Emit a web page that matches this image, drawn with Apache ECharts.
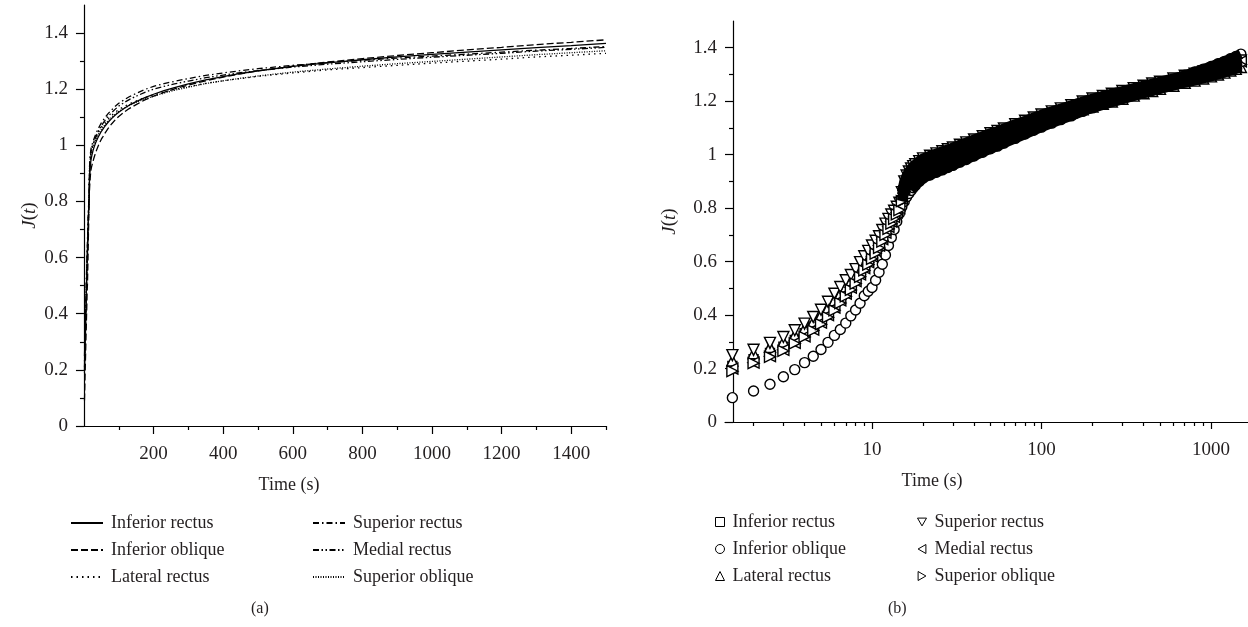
<!DOCTYPE html>
<html>
<head>
<meta charset="utf-8">
<script src="https://cdn.jsdelivr.net/npm/echarts@6/dist/echarts.min.js"></script>
<style>
  html, body { margin: 0; padding: 0; background: #fff; }
  #wrap { position: relative; width: 1248px; height: 627px; }
  .panel { position: absolute; top: 0; width: 624px; height: 627px; }
</style>
</head>
<body>
<div id="wrap">
  <div class="panel" id="chartA" style="left:0"></div>
  <div class="panel" id="chartB" style="left:624px"></div>
</div>
<script>
// sampling times (s), shared by both panels
var timeS = [1.5, 2, 2.5, 3, 3.5, 4, 4.5, 5, 5.5, 6, 6.5, 7, 7.5, 8, 8.5, 9, 9.5, 10,
  10.5, 11, 11.5, 12, 12.5, 13, 13.5, 14, 14.5, 15, 15.5, 16, 16.5, 17, 17.5, 18,
  19, 20, 22, 24, 26, 28, 30, 33, 36, 40, 45, 50, 55, 60, 70, 80, 90, 100,
  115, 130, 150, 175, 200, 230, 260, 300, 350, 400, 450, 500,
  600, 700, 800, 900, 1000, 1100, 1200, 1300, 1400, 1500];

// J(t) per muscle
var inferiorRectus = [0.21, 0.235, 0.258, 0.282, 0.307, 0.332, 0.357, 0.383, 0.41, 0.438, 0.464, 0.49, 0.513, 0.537, 0.562, 0.585, 0.607, 0.628,
  0.648, 0.668, 0.692, 0.716, 0.737, 0.756, 0.773, 0.789, 0.805, 0.83, 0.86, 0.88, 0.895, 0.906, 0.915, 0.922,
  0.935, 0.946, 0.96, 0.971, 0.981, 0.989, 0.997, 1.007, 1.016, 1.027, 1.039, 1.05, 1.059, 1.068, 1.083, 1.096, 1.108, 1.118,
  1.131, 1.143, 1.156, 1.17, 1.182, 1.195, 1.206, 1.219, 1.233, 1.245, 1.256, 1.265,
  1.281, 1.294, 1.305, 1.315, 1.324, 1.332, 1.34, 1.348, 1.355, 1.363];
var inferiorOblique = [0.091, 0.116, 0.141, 0.169, 0.196, 0.222, 0.246, 0.271, 0.298, 0.324, 0.346, 0.37, 0.397, 0.419, 0.444, 0.472, 0.489, 0.503,
  0.53, 0.56, 0.59, 0.625, 0.66, 0.69, 0.72, 0.75, 0.78, 0.805, 0.825, 0.842, 0.855, 0.866, 0.876, 0.885,
  0.9, 0.912, 0.924, 0.934, 0.943, 0.952, 0.96, 0.972, 0.982, 0.995, 1.009, 1.022, 1.032, 1.043, 1.061, 1.077, 1.091, 1.103,
  1.118, 1.131, 1.145, 1.162, 1.175, 1.189, 1.201, 1.215, 1.23, 1.243, 1.255, 1.265,
  1.282, 1.297, 1.309, 1.32, 1.33, 1.34, 1.349, 1.359, 1.367, 1.376];
var lateralRectus = [0.23, 0.257, 0.281, 0.3, 0.325, 0.35, 0.375, 0.4, 0.427, 0.455, 0.48, 0.505, 0.527, 0.55, 0.575, 0.598, 0.618, 0.638,
  0.657, 0.676, 0.7, 0.724, 0.744, 0.762, 0.778, 0.794, 0.81, 0.85, 0.89, 0.914, 0.93, 0.942, 0.951, 0.958,
  0.97, 0.981, 0.99, 0.998, 1.005, 1.011, 1.018, 1.027, 1.035, 1.044, 1.055, 1.065, 1.073, 1.081, 1.095, 1.107, 1.118, 1.128,
  1.138, 1.148, 1.158, 1.17, 1.18, 1.19, 1.199, 1.209, 1.221, 1.23, 1.238, 1.246,
  1.258, 1.269, 1.277, 1.285, 1.293, 1.3, 1.307, 1.315, 1.321, 1.328];
var superiorRectus = [0.25, 0.27, 0.296, 0.318, 0.343, 0.368, 0.393, 0.42, 0.45, 0.48, 0.505, 0.53, 0.55, 0.572, 0.598, 0.62, 0.64, 0.66,
  0.678, 0.695, 0.718, 0.742, 0.76, 0.776, 0.79, 0.805, 0.82, 0.86, 0.9, 0.922, 0.937, 0.948, 0.957, 0.964,
  0.976, 0.986, 0.996, 1.005, 1.013, 1.02, 1.027, 1.037, 1.046, 1.057, 1.069, 1.08, 1.089, 1.098, 1.114, 1.127, 1.139, 1.15,
  1.162, 1.173, 1.185, 1.199, 1.21, 1.22, 1.228, 1.238, 1.249, 1.258, 1.266, 1.273,
  1.285, 1.295, 1.303, 1.311, 1.318, 1.325, 1.332, 1.339, 1.345, 1.352];
var medialRectus = [0.2, 0.222, 0.246, 0.27, 0.296, 0.32, 0.346, 0.372, 0.4, 0.428, 0.455, 0.48, 0.503, 0.527, 0.552, 0.576, 0.598, 0.62,
  0.64, 0.66, 0.684, 0.708, 0.73, 0.75, 0.767, 0.784, 0.8, 0.835, 0.872, 0.898, 0.915, 0.928, 0.938, 0.946,
  0.962, 0.976, 0.986, 0.995, 1.003, 1.01, 1.017, 1.027, 1.036, 1.047, 1.059, 1.07, 1.079, 1.088, 1.104, 1.117, 1.129, 1.14,
  1.152, 1.163, 1.175, 1.189, 1.2, 1.21, 1.219, 1.229, 1.241, 1.25, 1.259, 1.266,
  1.279, 1.289, 1.298, 1.306, 1.314, 1.321, 1.328, 1.336, 1.342, 1.349];
var superiorOblique = [0.19, 0.22, 0.244, 0.266, 0.294, 0.318, 0.342, 0.366, 0.392, 0.418, 0.445, 0.47, 0.494, 0.518, 0.543, 0.567, 0.589, 0.61,
  0.63, 0.651, 0.675, 0.7, 0.722, 0.742, 0.76, 0.777, 0.793, 0.826, 0.862, 0.888, 0.905, 0.918, 0.93, 0.939,
  0.956, 0.971, 0.98, 0.988, 0.996, 1.002, 1.009, 1.018, 1.026, 1.036, 1.047, 1.057, 1.065, 1.074, 1.088, 1.1, 1.111, 1.121,
  1.132, 1.142, 1.153, 1.165, 1.175, 1.186, 1.196, 1.207, 1.22, 1.23, 1.239, 1.247,
  1.261, 1.272, 1.282, 1.291, 1.299, 1.307, 1.315, 1.323, 1.33, 1.337];

// ticks and labels
var yMajor = [0, 0.2, 0.4, 0.6, 0.8, 1, 1.2, 1.4];
var yMinor = [0.1, 0.3, 0.5, 0.7, 0.9, 1.1, 1.3];
var xMajorA = [200, 400, 600, 800, 1000, 1200, 1400];
var xMinorA = [100, 300, 500, 700, 900, 1100, 1300, 1500];
var xMajorB = [10, 100, 1000];
var xMinorB = [2, 3, 4, 5, 6, 7, 8, 9, 20, 30, 40, 50, 60, 70, 80, 90, 200, 300, 400, 500, 600, 700, 800, 900];

var FONT = '"Liberation Serif", "DejaVu Serif", serif';
var INK = '#231f20';

var muscles = [
  { name: 'Inferior rectus', data: inferiorRectus, dash: 'solid', symbol: 'rect', size: 9, bandFrom: 27 },
  { name: 'Inferior oblique', data: inferiorOblique, dash: [7, 3], symbol: 'circle', size: 10, bandFrom: 31 },
  { name: 'Lateral rectus', data: lateralRectus, dash: [1.5, 4], symbol: 'triangle', size: 11, bandFrom: 27 },
  { name: 'Superior rectus', data: superiorRectus, dash: [6, 3, 1.5, 3], symbol: 'path://M0,0L10,0L5,8.66Z', size: 11, bandFrom: 27 },
  { name: 'Medial rectus', data: medialRectus, dash: [6, 2.5, 1.5, 2.5, 1.5, 2.5], symbol: 'path://M8.66,0L8.66,10L0,5Z', size: 11, bandFrom: 27 },
  { name: 'Superior oblique', data: superiorOblique, dash: [1, 1.5], symbol: 'path://M0,0L0,10L8.66,5Z', size: 11, bandFrom: 27 }
];

function pairs(arr, from) {
  var out = [];
  for (var i = from || 0; i < timeS.length; i++) out.push([timeS[i], arr[i]]);
  return out;
}

var tickFont = { fontFamily: FONT, fontSize: 19, color: INK };
var fmtNum = function (v) { return String(+(+v).toFixed(2)); };

function yAxes(offset, nameGap, labelMargin) {
  return [{
    type: 'value', min: 0, max: 1.5, position: 'left', offset: offset,
    name: '{i|J}({i|t})', nameLocation: 'middle', nameGap: nameGap, nameMoveOverlap: false,
    nameTextStyle: { fontFamily: FONT, fontSize: 19, color: INK, rich: { i: { fontFamily: FONT, fontSize: 19, fontStyle: 'italic', color: INK } } },
    axisLine: { show: true, lineStyle: { color: '#000', width: 1.2 } },
    axisTick: { show: true, customValues: yMajor, length: 8, lineStyle: { color: '#000', width: 1.2 } },
    axisLabel: Object.assign({ customValues: yMajor, margin: labelMargin, formatter: fmtNum }, tickFont),
    splitLine: { show: false }
  }, {
    type: 'value', min: 0, max: 1.5, position: 'left', offset: offset,
    axisLine: { show: false },
    axisTick: { show: true, customValues: yMinor, length: 4, lineStyle: { color: '#000', width: 1.2 } },
    axisLabel: { show: false },
    splitLine: { show: false }
  }];
}

function legends(items, leftA, leftB, top, w, h, iconStyle) {
  var base = {
    orient: 'vertical', top: top, itemWidth: w, itemHeight: h, itemGap: 9, padding: 0,
    selectedMode: false, itemStyle: iconStyle,
    textStyle: { fontFamily: FONT, fontSize: 18, color: INK, padding: [0, 0, 0, 3] }
  };
  return [
    Object.assign({ left: leftA, data: items.slice(0, 3) }, base),
    Object.assign({ left: leftB, data: items.slice(3, 6) }, base)
  ];
}

var names = muscles.map(function (m) { return m.name; });

// ---------- panel (a): linear time ----------
var chartA = echarts.init(document.getElementById('chartA'));
chartA.setOption({
  animation: false,
  textStyle: { fontFamily: FONT, color: INK },
  title: { text: '(a)', left: 251, top: 601, padding: 0, textStyle: { fontFamily: FONT, fontSize: 16, fontWeight: 'normal', color: INK } },
  grid: { left: 77, right: 18, top: 5, bottom: 201, outerBoundsMode: 'none' },
  // line-only legend icons: hide the symbol ECharts adds by default
  legend: legends(names, 70, 312, 514, 32, 18, { opacity: 0, color: 'rgba(0,0,0,0)', borderWidth: 0 }),
  xAxis: [{
    type: 'value', min: -20, max: 1500, position: 'bottom',
    name: 'Time (s)', nameLocation: 'middle', nameGap: 50, nameMoveOverlap: false,
    nameTextStyle: { fontFamily: FONT, fontSize: 18, color: INK, padding: [0, 105, 0, 0] },
    axisLine: { show: true, lineStyle: { color: '#000', width: 1.2 } },
    axisTick: { show: true, customValues: xMajorA, length: 8, lineStyle: { color: '#000', width: 1.2 } },
    axisLabel: Object.assign({ customValues: xMajorA, margin: 19, formatter: fmtNum }, tickFont),
    splitLine: { show: false }
  }, {
    type: 'value', min: -20, max: 1500, position: 'bottom',
    axisLine: { show: false },
    axisTick: { show: true, customValues: xMinorA, length: 4, lineStyle: { color: '#000', width: 1.2 } },
    axisLabel: { show: false },
    splitLine: { show: false }
  }],
  yAxis: yAxes(0, 38, 9),
  series: muscles.map(function (m) {
    return {
      name: m.name, type: 'line', data: pairs(m.data), symbol: 'none',
      lineStyle: { color: '#000', width: 1.3, type: m.dash },
      itemStyle: { color: '#000' }
    };
  })
});

// ---------- panel (b): log time ----------
var chartB = echarts.init(document.getElementById('chartB'));
var seriesB = [];
muscles.forEach(function (m) {
  seriesB.push({
    name: m.name, type: 'scatter', data: pairs(m.data), symbol: m.symbol, symbolSize: m.size, z: 2,
    itemStyle: { color: '#fff', borderColor: '#000', borderWidth: 1.4, opacity: 1 }
  });
});
muscles.forEach(function (m) {
  // dense sampling merges the markers into a solid black band
  seriesB.push({
    name: m.name + ' band', type: 'line', data: pairs(m.data, m.bandFrom), symbol: 'none', z: 3,
    lineStyle: { color: '#000', width: 10 }, silent: true
  });
});
chartB.setOption({
  animation: false,
  textStyle: { fontFamily: FONT, color: INK },
  title: { text: '(b)', left: 264, top: 601, padding: 0, textStyle: { fontFamily: FONT, fontSize: 16, fontWeight: 'normal', color: INK } },
  grid: { left: 101, right: 0, top: 21, bottom: 205, outerBoundsMode: 'none' },
  legend: legends(names, 91, 293, 513, 9, 9, { color: '#fff', borderColor: '#000', borderWidth: 1 }),
  xAxis: [{
    type: 'log', logBase: 10, min: 1.357, max: 1653, position: 'bottom',
    name: 'Time (s)', nameLocation: 'middle', nameGap: 50, nameMoveOverlap: false,
    nameTextStyle: { fontFamily: FONT, fontSize: 18, color: INK, padding: [0, 109, 0, 0] },
    axisLine: { show: true, lineStyle: { color: '#000', width: 1.2 } },
    axisTick: { show: true, customValues: xMajorB, length: 7, lineStyle: { color: '#000', width: 1.2 } },
    axisLabel: Object.assign({ customValues: xMajorB, margin: 19, formatter: function (v) { return String(Math.round(v)); } }, tickFont),
    splitLine: { show: false }
  }, {
    type: 'log', logBase: 10, min: 1.357, max: 1653, position: 'bottom',
    axisLine: { show: false },
    axisTick: { show: true, customValues: xMinorB, length: 4, lineStyle: { color: '#000', width: 1.2 } },
    axisLabel: { show: false },
    splitLine: { show: false }
  }],
  yAxis: yAxes(-8, 54, 16),
  series: seriesB
});
</script>
</body>
</html>
